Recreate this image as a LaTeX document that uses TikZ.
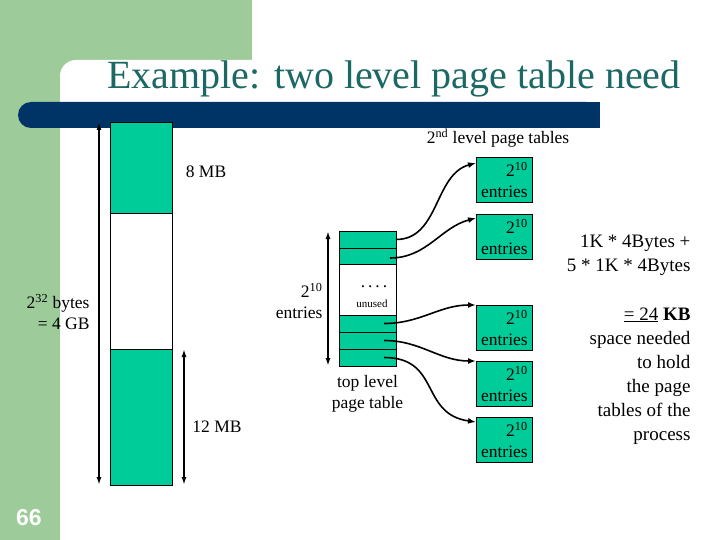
\documentclass[tikz,border=0pt]{standalone}
\usepackage{fontspec}
\setmainfont{Liberation Serif}
\newfontfamily\slidesans{Liberation Sans}
\usetikzlibrary{positioning,arrows.meta}

\definecolor{slidegreen}{RGB}{158,203,154}
\definecolor{cellgreen}{RGB}{0,204,153}
\definecolor{barblue}{RGB}{0,51,102}
\definecolor{titleteal}{RGB}{28,104,100}

\tikzset{
  cell/.style={draw=black, line width=0.8pt, fill=cellgreen, minimum width=57, minimum height=17, inner sep=0pt, outer sep=0pt},
  memcell/.style={draw=black, line width=0.8pt, fill=cellgreen, minimum width=62, inner sep=0pt, outer sep=0pt, anchor=north west},
  slbox/.style={draw=black, line width=0.8pt, fill=cellgreen, minimum width=56, minimum height=45, inner sep=2pt, anchor=north west, align=right, font=\fontsize{17.5}{21}\selectfont},
  lbl/.style={font=\fontsize{17.5}{21}\selectfont},
  note/.style={font=\fontsize{19}{24}\selectfont, align=right},
  dimarrow/.style={{Latex[length=8pt,width=5pt]}-{Latex[length=8pt,width=5pt]}, line width=1.6pt},
  link/.style={-{Latex[length=8pt,width=6pt]}, line width=1.6pt}
}

\begin{document}
\begin{tikzpicture}[x=1pt, y=-1pt]
    \useasboundingbox (0,0) rectangle (720,540);

    % Sfondo della slide
    \fill[slidegreen] (0,0) rectangle (252,80);
    \fill[slidegreen] (0,0) rectangle (60,540);
    \fill[white, rounded corners=16pt] (60,60) rectangle (760,580);
    \fill[barblue, rounded corners=13pt] (18,102) rectangle (600,128);
    \fill[barblue] (570,102) rectangle (600,128);
    \node[text=titleteal, font=\fontsize{40}{44}\selectfont, anchor=base] (title) at (394,89) {Example: two level page table need};
    \node[text=white, font=\slidesans\bfseries\fontsize{23}{26}\selectfont] (pagenum) at (29,518) {66};

    % Spazio di indirizzamento
    \node[memcell, minimum height=91] (memtop) at (110,122) {};
    \node[memcell, fill=white, minimum height=136] (memgap) at (110,213) {};
    \node[memcell, minimum height=136] (membot) at (110,349) {};
    \draw[dimarrow] ([xshift=-11pt]memtop.north west) -- ([xshift=-11pt]membot.south west);
    \draw[dimarrow] ([xshift=12pt]membot.north east) -- ([xshift=12pt]membot.south east);
    \node[lbl, align=right, anchor=east] (total) at (93,312) {2\textsuperscript{32} bytes\\= 4 GB};
    \node[lbl] (low) at (206,172) {8 MB};
    \node[lbl] (high) at (217,427) {12 MB};

    % Tabella di primo livello
    \node[cell, anchor=north west] (t1) at (339,231) {};
    \node[cell, minimum height=16, below=0pt of t1] (t2) {};
    \node[cell, fill=white, minimum height=51, below=0pt of t2] (gap) {};
    \node[cell, below=0pt of gap] (t3) {};
    \node[cell, below=0pt of t3] (t4) {};
    \node[cell, below=0pt of t4] (t5) {};
    \node[lbl] (dots) at (374,287) {.\hspace{3pt}.\hspace{3pt}.\hspace{3pt}.};
    \node[font=\fontsize{11}{12}\selectfont] (unused) at (372,304) {unused};
    \draw[dimarrow] ([xshift=-11pt]t1.north west) -- ([xshift=-11pt]t5.south west);
    \node[lbl, align=right, anchor=east] (count) at (326,301) {2\textsuperscript{10}\\entries};
    \node[lbl, align=center, below=6pt of t5] (toplbl) {top level\\page table};

    % Tabelle di secondo livello
    \node[lbl] (sllbl) at (498,138) {2\textsuperscript{nd} level page tables};
    \node[slbox] (sl1) at (476,157) {2\textsuperscript{10}\\entries};
    \node[slbox] (sl2) at (476,214) {2\textsuperscript{10}\\entries};
    \node[slbox] (sl3) at (476,305) {2\textsuperscript{10}\\entries};
    \node[slbox] (sl4) at (476,361) {2\textsuperscript{10}\\entries};
    \node[slbox] (sl5) at (476,417) {2\textsuperscript{10}\\entries};

    % Puntatori
    \draw[link] (t1.east) to[out=0, in=195] ([yshift=-6pt]sl1.north west);
    \draw[link] ([xshift=-6pt, yshift=-2pt]t2.east) to[out=0, in=195] ([yshift=-4pt]sl2.north west);
    \draw[link] ([xshift=-12pt]t3.east) to[out=0, in=180] (sl3.north west);
    \draw[link] ([xshift=-12pt]t4.east) to[out=0, in=180] (sl4.north west);
    \draw[link] ([xshift=-12pt]t5.east) to[out=0, in=172, looseness=1.3] ([yshift=-5pt]sl5.north west);

    % Conto dello spazio
    \node[note, anchor=east] (calc) at (694,255) {1K * 4Bytes +\\5 * 1K * 4Bytes};
    \node[note, anchor=north east] (result) at (694,304) {\underline{= 24} \textbf{KB}\\space needed\\to hold\\the page\\tables of the\\process};
\end{tikzpicture}
\end{document}
